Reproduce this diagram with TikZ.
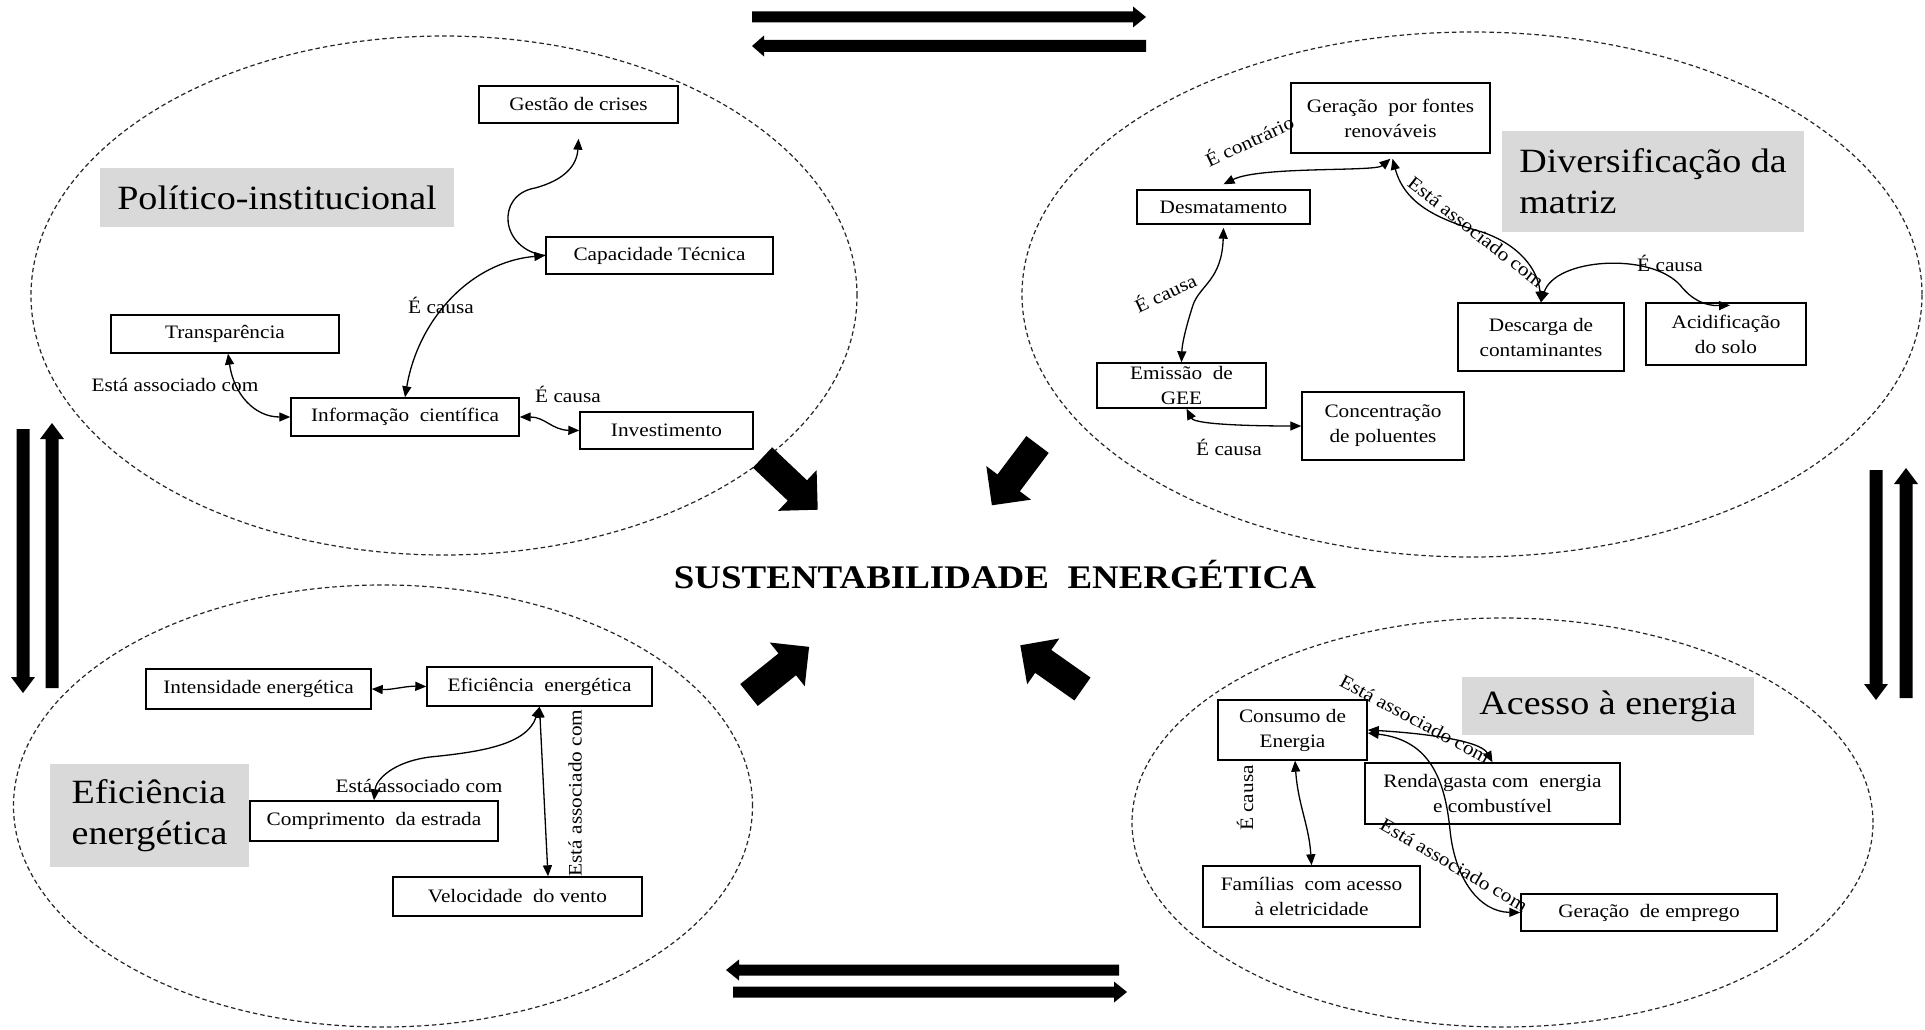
\documentclass[tikz,border=0pt]{standalone}
\usepackage{fontspec}
\setmainfont{Liberation Serif}[FakeStretch=1.12]
\usetikzlibrary{arrows.meta,calc}
\newcommand{\blockarr}[3]{\begin{scope}[shift={#1},rotate=#2]\fill (0,-14) -- ({#3-28},-14) -- ({#3-28},-28) -- (#3,0) -- ({#3-28},28) -- ({#3-28},14) -- (0,14) -- cycle;\end{scope}}
\newcommand{\flatarr}[6]{\begin{scope}[shift={#1},rotate=#2]\fill (0,-#4) -- ({#3-#6},-#4) -- ({#3-#6},-#5) -- (#3,0) -- ({#3-#6},#5) -- ({#3-#6},#4) -- (0,#4) -- cycle;\end{scope}}
\tikzset{
 bx/.style={draw, line width=1.4pt, fill=white, inner sep=0pt, align=center, font=\fontsize{19}{25}\selectfont},
 lbl/.style={inner sep=0pt, font=\fontsize{19}{23}\selectfont},
 gbox/.style={fill=black!15, inner sep=0pt, align=left, font=\fontsize{34}{41}\selectfont},
 zone/.style={draw=black!85, line width=1.2pt, dash pattern=on 4.5pt off 3pt},
 link/.style={line width=1.3pt, {Triangle[length=11pt,width=9pt]}-{Triangle[length=11pt,width=9pt]}},
 linkone/.style={line width=1.3pt, -{Triangle[length=11pt,width=9pt]}},
}
\begin{document}
\begin{tikzpicture}[x=1pt,y=-1pt]
\fill[white] (0,0) rectangle (1925,1030);
\useasboundingbox (0,0) rectangle (1925,1030);
% zones
\draw[zone] (444,295.5) ellipse [x radius=413pt, y radius=259.5pt];
\draw[zone] (1472,294.5) ellipse [x radius=450pt, y radius=262.5pt];
\draw[zone] (383,806) ellipse [x radius=369.5pt, y radius=221pt];
\draw[zone] (1502.5,822.5) ellipse [x radius=370.5pt, y radius=204.5pt];
% gray titles
\node[gbox, minimum width=354pt, minimum height=59pt] (pol) at (277,197.5) {Político-institucional};
\node[gbox, minimum width=302pt, minimum height=101pt] (div) at (1653,181.5) {Diversificação da\\matriz};
\node[gbox, minimum width=199pt, minimum height=103pt] (efg) at (149.5,815.5) {Eficiência\\energética};
\node[gbox, minimum width=292pt, minimum height=58pt] (aces) at (1608,706) {Acesso à energia};
% boxes
\node[bx, minimum width=199pt, minimum height=37pt] (gestao) at (578.5,104.5) {Gestão de crises};
\node[bx, minimum width=227pt, minimum height=37pt] (capac) at (659.5,255.5) {Capacidade Técnica};
\node[bx, minimum width=228pt, minimum height=38pt] (transp) at (225,334) {Transparência};
\node[bx, minimum width=228pt, minimum height=38pt] (info) at (405,417) {Informação\ \ científica};
\node[bx, minimum width=173pt, minimum height=37pt] (invest) at (666.5,430.5) {Investimento};
\node[bx, minimum width=199pt, minimum height=70pt] (geracao) at (1390.5,118) {Geração\ \ por fontes\\renováveis};
\node[bx, minimum width=173pt, minimum height=34pt] (desmat) at (1223.5,207) {Desmatamento};
\node[bx, minimum width=169pt, minimum height=45pt] (emissao) at (1181.5,385.5) {Emissão\ \ de\\GEE};
\node[bx, minimum width=162pt, minimum height=68pt] (concentr) at (1383,426) {Concentração\\de poluentes};
\node[bx, minimum width=166pt, minimum height=68pt] (descarga) at (1541,337) {Descarga de\\contaminantes};
\node[bx, minimum width=160pt, minimum height=62pt] (acidif) at (1726,334) {Acidificação\\do solo};
\node[bx, minimum width=225pt, minimum height=40pt] (intens) at (258.5,689) {Intensidade energética};
\node[bx, minimum width=225pt, minimum height=39pt] (efic) at (539.5,686.5) {Eficiência\ \ energética};
\node[bx, minimum width=248pt, minimum height=40pt] (compr) at (374,821) {Comprimento\ \ da estrada};
\node[bx, minimum width=249pt, minimum height=39pt] (veloc) at (517.5,896.5) {Velocidade\ \ do vento};
\node[bx, minimum width=149pt, minimum height=60pt] (consumo) at (1292.5,730) {Consumo de\\Energia};
\node[bx, minimum width=255pt, minimum height=61pt] (renda) at (1492.5,793.5) {Renda gasta com\ \ energia\\e combustível};
\node[bx, minimum width=217pt, minimum height=61pt] (familias) at (1311.5,896.5) {Famílias\ \ com acesso\\à eletricidade};
\node[bx, minimum width=256pt, minimum height=37pt] (emprego) at (1649,912.5) {Geração\ \ de emprego};
% connectors top-left
\draw[link] ([xshift=3pt]transp.south) .. controls (234,395) and (255,417) .. (info.west);
\draw[link] (info.north) .. controls (418,320) and (470,262) .. (capac.west);
\draw[linkone] (capac.west) .. controls (500,250) and (495,195) .. (535,188) .. controls (565,180) and (577,165) .. ([yshift=-15pt]gestao.south);
\draw[link] (info.east) .. controls (545,417) and (552,430) .. (invest.west);
% connectors top-right
\draw[link] ([yshift=-5pt]geracao.south) .. controls (1375,172) and (1260,166) .. ([yshift=5pt]desmat.north);
\draw[link] ([yshift=-3pt]desmat.south) .. controls (1222,280) and (1200,285) .. (1193,305) .. controls (1185,330) and (1182,345) .. (emissao.north);
\draw[link] ([xshift=5pt]emissao.south) .. controls (1195,425) and (1260,426) .. (concentr.west);
\draw[link] ([xshift=2pt,yshift=-5pt]geracao.south) .. controls (1405,205) and (1440,220) .. (1482,232) .. controls (1520,245) and (1538,270) .. (descarga.north);
\draw[link] (descarga.north) .. controls (1555,258) and (1650,252) .. (1680,285) .. controls (1692,300) and (1705,306) .. ([xshift=4pt,yshift=-3pt]acidif.north);
% connectors bottom-left
\draw[link] (intens.east) .. controls (392,690) and (405,686) .. (efic.west);
\draw[link] (efic.south) .. controls (527,745) and (480,752) .. (430,757) .. controls (392,762) and (376,780) .. (compr.north);
\draw[link] (efic.south) -- ([xshift=30.5pt]veloc.north);
% connectors bottom-right
\draw[link] ([xshift=2.5pt]consumo.south) .. controls (1298,805) and (1309,825) .. (familias.north);
\draw[link] (consumo.east) .. controls (1420,733) and (1480,740) .. (renda.north);
\draw[link] ([yshift=-3pt]consumo.east) .. controls (1430,740) and (1445,780) .. (1450,830) .. controls (1455,880) and (1480,912) .. (emprego.west);
% labels
\node[lbl] (l1) at (441,305) {É causa};
\node[lbl] (l2) at (175,385) {Está associado com};
\node[lbl] (l3) at (568,394) {É causa};
\node[lbl, rotate=25] (l4) at (1249,140) {É contrário};
\node[lbl, rotate=25] (l5) at (1165,292) {É causa};
\node[lbl, rotate=-38] (l6) at (1476,232) {Está associado com};
\node[lbl] (l7) at (1670,263) {É causa};
\node[lbl] (l8) at (1229,447) {É causa};
\node[lbl] (l9) at (419,786) {Está associado com};
\node[lbl, rotate=90] (l10) at (575,793) {Está associado com};
\node[lbl, rotate=90] (l11) at (1245,798) {É causa};
\node[lbl, rotate=-28] (l12) at (1415,719) {Está associado com};
\node[lbl, rotate=-30] (l13) at (1454,865) {Está associado com};
% title
\node[anchor=base, inner sep=0pt, font=\bfseries\fontsize{33}{40}\selectfont] (title) at (995,588) {SUSTENTABILIDADE\ \ ENERGÉTICA};
% block arrows
\blockarr{(762.5,457.5)}{-43.4}{76}
\blockarr{(1037.5,444.5)}{-126.9}{76}
\blockarr{(749,695)}{38.7}{77}
\blockarr{(1082.5,689)}{144.9}{76}
% flat arrows
\flatarr{(752,17)}{0}{394}{5.5}{10.5}{13}
\flatarr{(1146,46)}{180}{394}{6}{10.5}{12}
\flatarr{(1119,970)}{180}{393}{5.5}{10.5}{13}
\flatarr{(733,992)}{0}{394}{5.5}{10.5}{13}
\flatarr{(23,429)}{-90}{264}{6.5}{12}{16}
\flatarr{(52,688)}{90}{265}{6.5}{12}{16}
\flatarr{(1876,470)}{-90}{230}{6.5}{12}{16}
\flatarr{(1906,698)}{90}{230}{6.5}{12}{16}
\end{tikzpicture}
\end{document}
